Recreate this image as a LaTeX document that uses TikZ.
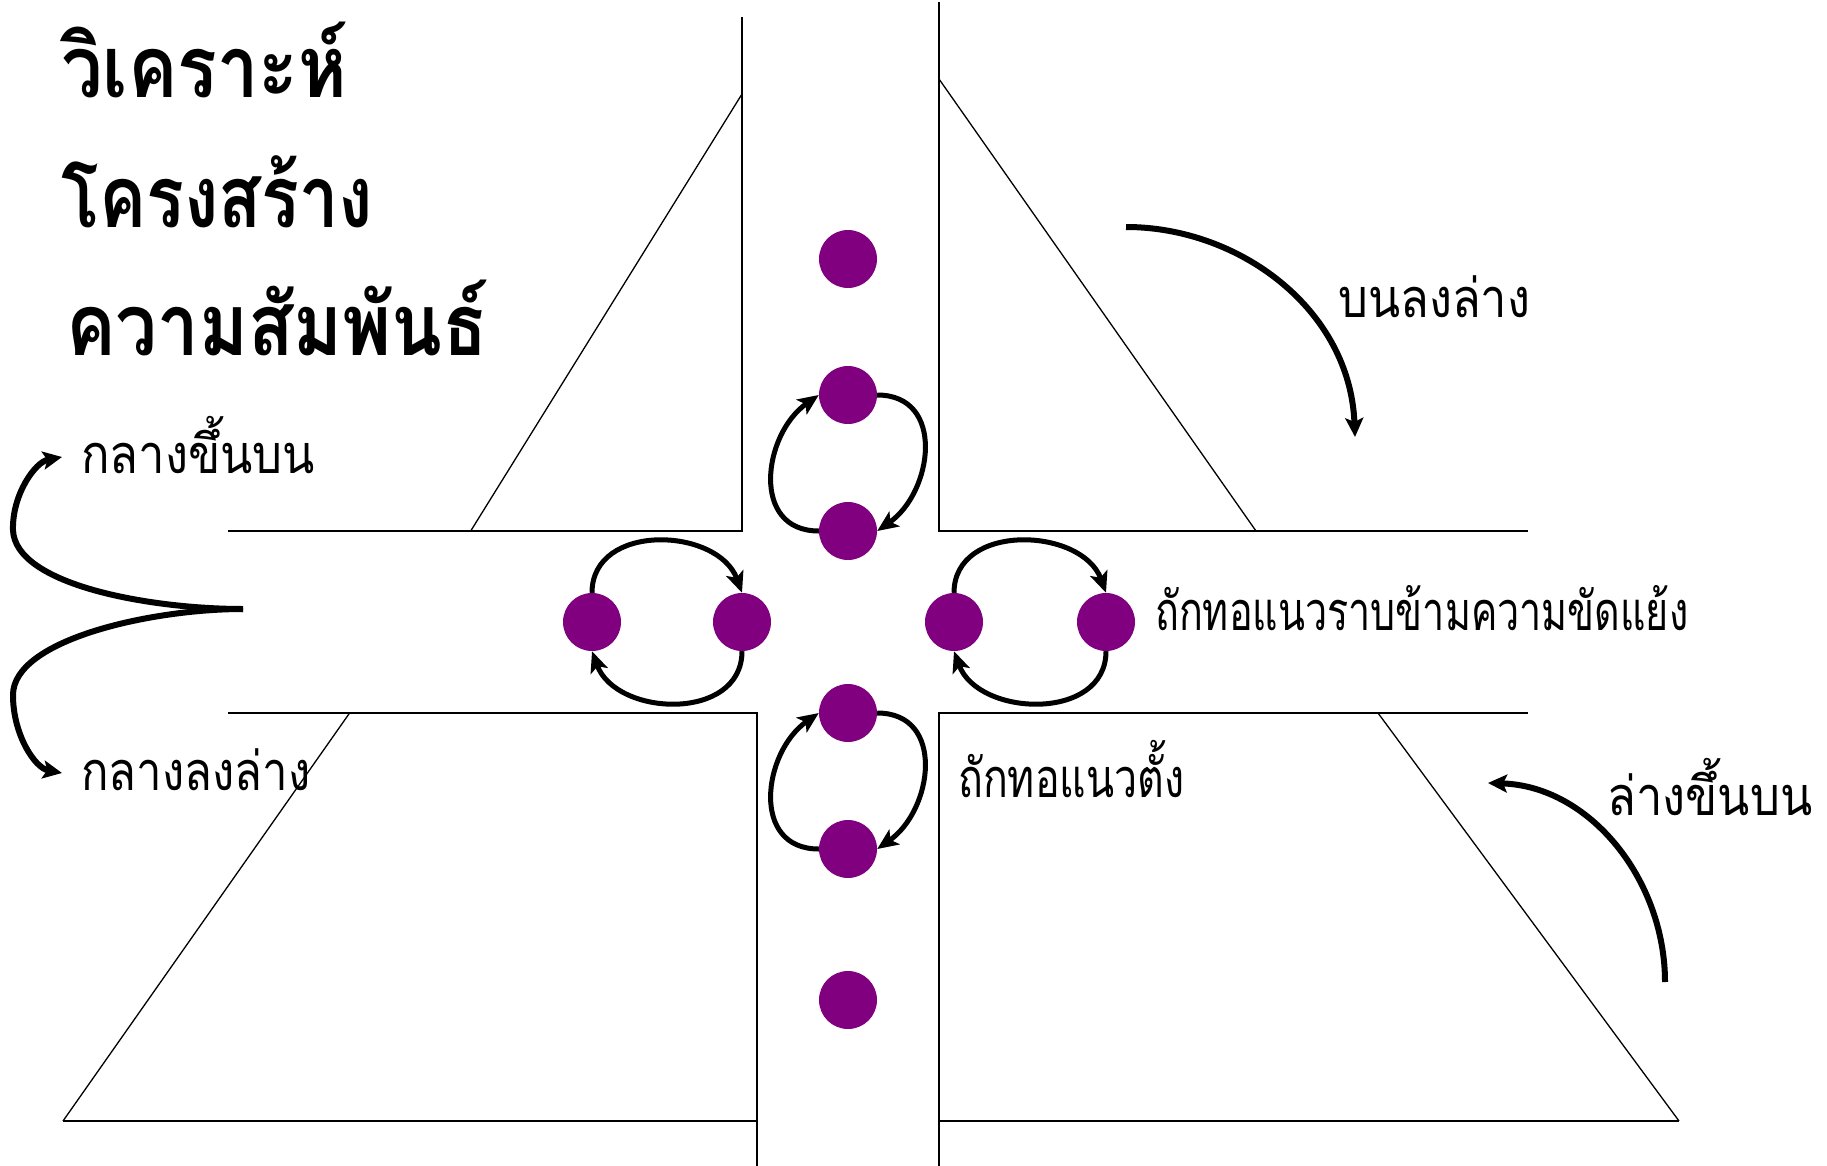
\documentclass[tikz,border=0pt]{standalone}
\usepackage{fontspec}
\usepackage{graphicx}
\newfontfamily\thaititle[Script=Thai]{Loma}
\newfontfamily\thailabel[Script=Thai]{Loma}
\usetikzlibrary{arrows.meta}
\definecolor{dotpurple}{HTML}{800080}
\newcommand\fitto[2]{\resizebox{#1pt}{\height}{#2}}
\begin{document}
\begin{tikzpicture}[x=1pt,y=-1pt,
  frame/.style={line width=1.7pt},
  diag/.style={line width=1.3pt},
  dot/.style={circle, fill=dotpurple, minimum size=58pt, inner sep=0pt},
  looparrow/.style={line width=5pt, -{Stealth[length=21pt,width=18pt,inset=5pt]}},
  bigarrow/.style={line width=6pt, -{Stealth[length=19pt,width=18pt,inset=4pt]}},
  lbl/.style={anchor=base west, inner sep=0pt, font=\thailabel\fontsize{54}{60}\selectfont},
  ttl/.style={anchor=base west, inner sep=0pt, font=\thaititle\bfseries\fontsize{86}{90}\selectfont}]
\useasboundingbox[fill=white] (0,0) rectangle (1827,1166);

% frame lines
\draw[frame] (228,531) -- (742,531) -- (742,17);
\draw[diag] (470.7,531) -- (742,94);
\draw[frame] (939,2) -- (939,531) -- (1528,531);
\draw[diag] (939,79) -- (1256,531);
\draw[frame] (228,713) -- (757,713) -- (757,1166);
\draw[frame] (63,1121) -- (757,1121);
\draw[diag] (349.6,713) -- (63,1121);
\draw[frame] (1528,713) -- (939,713) -- (939,1166);
\draw[frame] (939,1121) -- (1679,1121);
\draw[diag] (1378,713) -- (1679,1121);

% dots
\node[dot] (v1) at (848,259) {};
\node[dot] (v2) at (848,395) {};
\node[dot] (v3) at (848,531) {};
\node[dot] (v4) at (848,713) {};
\node[dot] (v5) at (848,849) {};
\node[dot] (v6) at (848,1000) {};
\node[dot] (h1) at (592,622) {};
\node[dot] (h2) at (742,622) {};
\node[dot] (h3) at (954,622) {};
\node[dot] (h4) at (1106,622) {};

% loop arrows
\draw[looparrow] (v3.west) .. controls (750,531) and (763,434) .. (v2.west);
\draw[looparrow] (v2.east) .. controls (946,395) and (933,492) .. (v3.east);
\draw[looparrow] (v5.west) .. controls (750,849) and (763,752) .. (v4.west);
\draw[looparrow] (v4.east) .. controls (946,713) and (933,810) .. (v5.east);
\draw[looparrow] (h1.north) .. controls (592,522) and (718,527) .. (h2.north);
\draw[looparrow] (h2.south) .. controls (742,722) and (616,717) .. (h1.south);
\draw[looparrow] (h3.north) .. controls (954,522) and (1082,527) .. (h4.north);
\draw[looparrow] (h4.south) .. controls (1106,722) and (978,717) .. (h3.south);

% big arrows
\coordinate (tdS) at (1126,227);
\coordinate (tdE) at (1355,437);
\draw[bigarrow] (tdS) .. controls (1240,227) and (1350,310) .. (tdE);
\coordinate (buS) at (1665,982);
\coordinate (buE) at (1488,783);
\draw[bigarrow] (buS) .. controls (1665,880) and (1590,786) .. (buE);
\coordinate (fork) at (243,609);
\coordinate (fkU) at (62,457);
\coordinate (fkD) at (62,773);
\draw[bigarrow] (fork) .. controls (150,609) and (15,585) .. (13,530) .. controls (12,495) and (35,462) .. (fkU);
\draw[bigarrow] (fork) .. controls (150,609) and (13,640) .. (13,695) .. controls (13,735) and (35,768) .. (fkD);

% title
\node[ttl] (t1) at (61,98) {\fitto{286}{วิเคราะห์}};
\node[ttl] (t2) at (61,228) {\fitto{312}{โครงสร้าง}};
\node[ttl] (t3) at (66,355) {\fitto{422}{ความสัมพันธ์}};

% labels
\node[lbl] (l1) at (1338,317) {\fitto{192}{บนลงล่าง}};
\node[lbl] (l2) at (81,473) {\fitto{234}{กลางขึ้นบน}};
\node[lbl] (l3) at (81,790) {\fitto{229}{กลางลงล่าง}};
\node[lbl] (l4) at (1155,630) {\fitto{533}{ถักทอแนวราบข้ามความขัดแย้ง}};
\node[lbl] (l5) at (958,797) {\fitto{226}{ถักทอแนวตั้ง}};
\node[lbl] (l6) at (1607,815) {\fitto{205}{ล่างขึ้นบน}};
\end{tikzpicture}
\end{document}
